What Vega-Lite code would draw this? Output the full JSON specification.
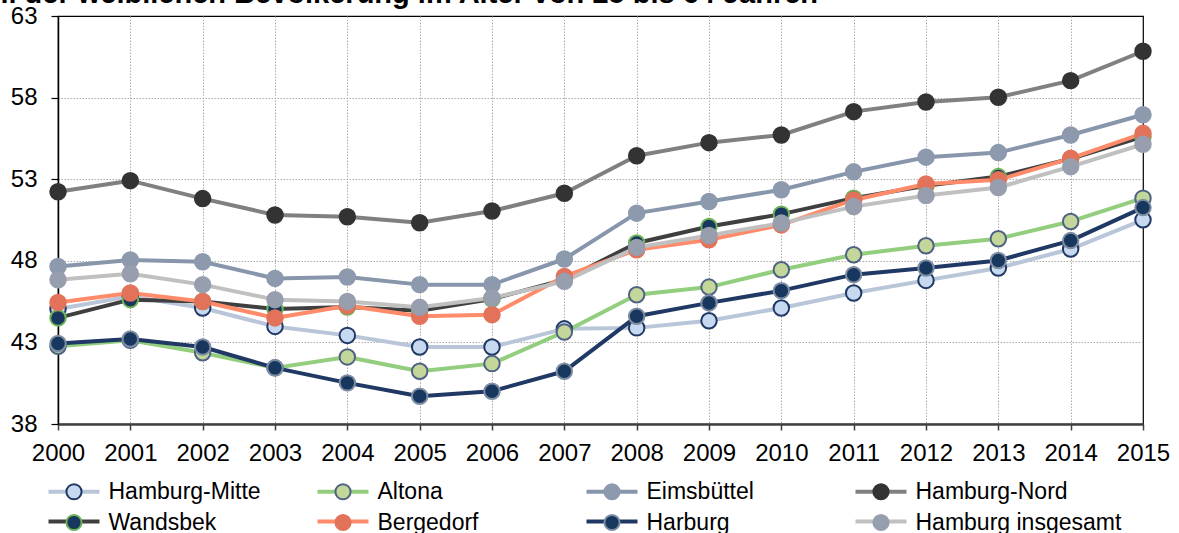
{
  "$schema": "https://vega.github.io/schema/vega-lite/v6.json",
  "width": 1085,
  "height": 408,
  "autosize": {"type": "none"},
  "padding": {"left": 58, "top": 16, "right": 36, "bottom": 109},
  "background": "white",
  "title": {
    "text": "Anteil der weiblichen Bevölkerung im Alter von 25 bis 64 Jahren",
    "anchor": "start",
    "frame": "group",
    "font": "Liberation Sans",
    "fontSize": 29,
    "fontWeight": "bold",
    "color": "black",
    "baseline": "alphabetic",
    "dx": -122,
    "dy": 28,
    "offset": 0
  },
  "config": {
    "view": {"stroke": "black", "strokeWidth": 1.2},
    "font": "Liberation Sans"
  },
  "datasets": {
    "rows": [
      {"name": "Hamburg-Mitte", "year": 2000, "value": 45.05}, {"name": "Hamburg-Mitte", "year": 2001, "value": 45.82}, {"name": "Hamburg-Mitte", "year": 2002, "value": 45.11}, {"name": "Hamburg-Mitte", "year": 2003, "value": 43.98}, {"name": "Hamburg-Mitte", "year": 2004, "value": 43.43}, {"name": "Hamburg-Mitte", "year": 2005, "value": 42.72}, {"name": "Hamburg-Mitte", "year": 2006, "value": 42.72}, {"name": "Hamburg-Mitte", "year": 2007, "value": 43.83}, {"name": "Hamburg-Mitte", "year": 2008, "value": 43.89}, {"name": "Hamburg-Mitte", "year": 2009, "value": 44.33}, {"name": "Hamburg-Mitte", "year": 2010, "value": 45.11}, {"name": "Hamburg-Mitte", "year": 2011, "value": 46.03}, {"name": "Hamburg-Mitte", "year": 2012, "value": 46.80}, {"name": "Hamburg-Mitte", "year": 2013, "value": 47.56}, {"name": "Hamburg-Mitte", "year": 2014, "value": 48.72}, {"name": "Hamburg-Mitte", "year": 2015, "value": 50.51},
      {"name": "Altona", "year": 2000, "value": 42.76}, {"name": "Altona", "year": 2001, "value": 43.13}, {"name": "Altona", "year": 2002, "value": 42.36}, {"name": "Altona", "year": 2003, "value": 41.44}, {"name": "Altona", "year": 2004, "value": 42.11}, {"name": "Altona", "year": 2005, "value": 41.23}, {"name": "Altona", "year": 2006, "value": 41.70}, {"name": "Altona", "year": 2007, "value": 43.64}, {"name": "Altona", "year": 2008, "value": 45.92}, {"name": "Altona", "year": 2009, "value": 46.39}, {"name": "Altona", "year": 2010, "value": 47.45}, {"name": "Altona", "year": 2011, "value": 48.37}, {"name": "Altona", "year": 2012, "value": 48.92}, {"name": "Altona", "year": 2013, "value": 49.35}, {"name": "Altona", "year": 2014, "value": 50.41}, {"name": "Altona", "year": 2015, "value": 51.84},
      {"name": "Eimsbüttel", "year": 2000, "value": 47.65}, {"name": "Eimsbüttel", "year": 2001, "value": 48.05}, {"name": "Eimsbüttel", "year": 2002, "value": 47.94}, {"name": "Eimsbüttel", "year": 2003, "value": 46.92}, {"name": "Eimsbüttel", "year": 2004, "value": 47.01}, {"name": "Eimsbüttel", "year": 2005, "value": 46.54}, {"name": "Eimsbüttel", "year": 2006, "value": 46.54}, {"name": "Eimsbüttel", "year": 2007, "value": 48.11}, {"name": "Eimsbüttel", "year": 2008, "value": 50.92}, {"name": "Eimsbüttel", "year": 2009, "value": 51.63}, {"name": "Eimsbüttel", "year": 2010, "value": 52.35}, {"name": "Eimsbüttel", "year": 2011, "value": 53.45}, {"name": "Eimsbüttel", "year": 2012, "value": 54.35}, {"name": "Eimsbüttel", "year": 2013, "value": 54.63}, {"name": "Eimsbüttel", "year": 2014, "value": 55.71}, {"name": "Eimsbüttel", "year": 2015, "value": 56.95},
      {"name": "Hamburg-Nord", "year": 2000, "value": 52.23}, {"name": "Hamburg-Nord", "year": 2001, "value": 52.91}, {"name": "Hamburg-Nord", "year": 2002, "value": 51.81}, {"name": "Hamburg-Nord", "year": 2003, "value": 50.81}, {"name": "Hamburg-Nord", "year": 2004, "value": 50.70}, {"name": "Hamburg-Nord", "year": 2005, "value": 50.33}, {"name": "Hamburg-Nord", "year": 2006, "value": 51.05}, {"name": "Hamburg-Nord", "year": 2007, "value": 52.14}, {"name": "Hamburg-Nord", "year": 2008, "value": 54.44}, {"name": "Hamburg-Nord", "year": 2009, "value": 55.24}, {"name": "Hamburg-Nord", "year": 2010, "value": 55.71}, {"name": "Hamburg-Nord", "year": 2011, "value": 57.14}, {"name": "Hamburg-Nord", "year": 2012, "value": 57.73}, {"name": "Hamburg-Nord", "year": 2013, "value": 58.02}, {"name": "Hamburg-Nord", "year": 2014, "value": 59.04}, {"name": "Hamburg-Nord", "year": 2015, "value": 60.84},
      {"name": "Wandsbek", "year": 2000, "value": 44.50}, {"name": "Wandsbek", "year": 2001, "value": 45.62}, {"name": "Wandsbek", "year": 2002, "value": 45.50}, {"name": "Wandsbek", "year": 2003, "value": 45.05}, {"name": "Wandsbek", "year": 2004, "value": 45.17}, {"name": "Wandsbek", "year": 2005, "value": 44.94}, {"name": "Wandsbek", "year": 2006, "value": 45.66}, {"name": "Wandsbek", "year": 2007, "value": 46.84}, {"name": "Wandsbek", "year": 2008, "value": 49.09}, {"name": "Wandsbek", "year": 2009, "value": 50.10}, {"name": "Wandsbek", "year": 2010, "value": 50.86}, {"name": "Wandsbek", "year": 2011, "value": 51.84}, {"name": "Wandsbek", "year": 2012, "value": 52.60}, {"name": "Wandsbek", "year": 2013, "value": 53.16}, {"name": "Wandsbek", "year": 2014, "value": 54.25}, {"name": "Wandsbek", "year": 2015, "value": 55.61},
      {"name": "Bergedorf", "year": 2000, "value": 45.45}, {"name": "Bergedorf", "year": 2001, "value": 46.03}, {"name": "Bergedorf", "year": 2002, "value": 45.51}, {"name": "Bergedorf", "year": 2003, "value": 44.50}, {"name": "Bergedorf", "year": 2004, "value": 45.25}, {"name": "Bergedorf", "year": 2005, "value": 44.60}, {"name": "Bergedorf", "year": 2006, "value": 44.70}, {"name": "Bergedorf", "year": 2007, "value": 47.04}, {"name": "Bergedorf", "year": 2008, "value": 48.68}, {"name": "Bergedorf", "year": 2009, "value": 49.29}, {"name": "Bergedorf", "year": 2010, "value": 50.20}, {"name": "Bergedorf", "year": 2011, "value": 51.73}, {"name": "Bergedorf", "year": 2012, "value": 52.71}, {"name": "Bergedorf", "year": 2013, "value": 52.96}, {"name": "Bergedorf", "year": 2014, "value": 54.28}, {"name": "Bergedorf", "year": 2015, "value": 55.81},
      {"name": "Harburg", "year": 2000, "value": 42.93}, {"name": "Harburg", "year": 2001, "value": 43.21}, {"name": "Harburg", "year": 2002, "value": 42.72}, {"name": "Harburg", "year": 2003, "value": 41.44}, {"name": "Harburg", "year": 2004, "value": 40.52}, {"name": "Harburg", "year": 2005, "value": 39.70}, {"name": "Harburg", "year": 2006, "value": 40.01}, {"name": "Harburg", "year": 2007, "value": 41.23}, {"name": "Harburg", "year": 2008, "value": 44.60}, {"name": "Harburg", "year": 2009, "value": 45.42}, {"name": "Harburg", "year": 2010, "value": 46.17}, {"name": "Harburg", "year": 2011, "value": 47.15}, {"name": "Harburg", "year": 2012, "value": 47.56}, {"name": "Harburg", "year": 2013, "value": 48.02}, {"name": "Harburg", "year": 2014, "value": 49.24}, {"name": "Harburg", "year": 2015, "value": 51.26},
      {"name": "Hamburg insgesamt", "year": 2000, "value": 46.84}, {"name": "Hamburg insgesamt", "year": 2001, "value": 47.21}, {"name": "Hamburg insgesamt", "year": 2002, "value": 46.54}, {"name": "Hamburg insgesamt", "year": 2003, "value": 45.62}, {"name": "Hamburg insgesamt", "year": 2004, "value": 45.51}, {"name": "Hamburg insgesamt", "year": 2005, "value": 45.15}, {"name": "Hamburg insgesamt", "year": 2006, "value": 45.72}, {"name": "Hamburg insgesamt", "year": 2007, "value": 46.74}, {"name": "Hamburg insgesamt", "year": 2008, "value": 48.82}, {"name": "Hamburg insgesamt", "year": 2009, "value": 49.55}, {"name": "Hamburg insgesamt", "year": 2010, "value": 50.31}, {"name": "Hamburg insgesamt", "year": 2011, "value": 51.32}, {"name": "Hamburg insgesamt", "year": 2012, "value": 52.00}, {"name": "Hamburg insgesamt", "year": 2013, "value": 52.49}, {"name": "Hamburg insgesamt", "year": 2014, "value": 53.77}, {"name": "Hamburg insgesamt", "year": 2015, "value": 55.14}
    ]
  },
  "data": {"name": "rows"},
  "encoding": {
    "x": {
      "field": "year",
      "type": "quantitative",
      "scale": {"domain": [2000, 2015], "nice": false, "zero": false},
      "axis": {
        "title": null,
        "values": [2000, 2001, 2002, 2003, 2004, 2005, 2006, 2007, 2008, 2009, 2010, 2011, 2012, 2013, 2014, 2015],
        "format": "d",
        "labelFont": "Liberation Sans",
        "labelFontSize": 24,
        "labelColor": "black",
        "labelPadding": 11,
        "labelFlush": false,
        "labelOverlap": false,
        "domainColor": "#404040",
        "domainWidth": 2.5,
        "tickColor": "#404040",
        "tickWidth": 1.5,
        "tickSize": 6,
        "grid": true,
        "gridColor": "#ADADAD",
        "gridDash": [1.5, 1.5],
        "gridWidth": 1,
        "gridOpacity": {"condition": {"test": "datum.value === 2015 || datum.value === 2000", "value": 0}, "value": 1}
      }
    },
    "y": {
      "field": "value",
      "type": "quantitative",
      "scale": {"domain": [38, 63], "nice": false, "zero": false},
      "axis": {
        "title": null,
        "values": [38, 43, 48, 53, 58, 63],
        "labelFont": "Liberation Sans",
        "labelFontSize": 24,
        "labelColor": "black",
        "labelPadding": 14,
        "labelFlush": false,
        "labelOverlap": false,
        "domainColor": "black",
        "domainWidth": 1.5,
        "tickColor": "black",
        "tickWidth": 1.2,
        "tickSize": 7,
        "grid": true,
        "gridColor": "#ADADAD",
        "gridDash": [1.5, 1.5],
        "gridWidth": 1,
        "gridOpacity": {"condition": {"test": "datum.value === 63 || datum.value === 38", "value": 0}, "value": 1}
      }
    }
  },
  "layer": [
    {
      "mark": {"type": "line", "strokeWidth": 4, "strokeJoin": "round"},
      "encoding": {
        "color": {
          "field": "name",
          "type": "nominal",
          "scale": {
            "domain": ["Hamburg-Mitte", "Altona", "Eimsbüttel", "Hamburg-Nord", "Wandsbek", "Bergedorf", "Harburg", "Hamburg insgesamt"],
            "range": ["#B9C5D8", "#92CE7E", "#8896AB", "#808080", "#3F3F3F", "#FF8B6A", "#1F3864", "#C0C0C0"]
          },
          "legend": {
            "title": null,
            "orient": "none",
            "legendX": -12.5,
            "legendY": 464,
            "direction": "horizontal",
            "columns": 4,
            "gridAlign": "all",
            "columnPadding": -20,
            "rowPadding": 6,
            "padding": 0,
            "symbolType": "M-3,0H3",
            "symbolSize": 289,
            "symbolStrokeWidth": 4,
            "symbolOffset": 17,
            "labelOffset": 23,
            "labelFont": "Liberation Sans",
            "labelFontSize": 23,
            "labelColor": "black",
            "labelOpacity": 0,
            "labelLimit": 400
          }
        }
      }
    },
    {
      "mark": {"type": "point", "shape": "circle", "filled": true, "size": 240, "strokeWidth": 2, "opacity": 1},
      "encoding": {
        "fill": {
          "field": "name",
          "type": "nominal",
          "scale": {
            "domain": ["Hamburg-Mitte", "Altona", "Eimsbüttel", "Hamburg-Nord", "Wandsbek", "Bergedorf", "Harburg", "Hamburg insgesamt", "-"],
            "range": ["#C6D9F1", "#C4D79B", "#8D9AAE", "#333333", "#17375E", "#E2735A", "#17375E", "#979EAE", "#ffffff"]
          },
          "legend": {
            "title": null,
            "values": ["Hamburg-Mitte", "Altona", "Eimsbüttel", "Hamburg-Nord", "Wandsbek", "Bergedorf", "Harburg", "Hamburg insgesamt"],
            "orient": "none",
            "legendX": -12.5,
            "legendY": 464,
            "direction": "horizontal",
            "columns": 4,
            "gridAlign": "all",
            "columnPadding": -20,
            "rowPadding": 6,
            "padding": 0,
            "symbolType": "M-3.12,0M3.12,0M0.892,0A0.892,0.892,0,1,1,-0.892,0A0.892,0.892,0,1,1,0.892,0Z",
            "symbolSize": 289,
            "symbolStrokeWidth": 2,
            "symbolOpacity": 1,
            "symbolOffset": 17,
            "labelOffset": 23,
            "labelFont": "Liberation Sans",
            "labelFontSize": 23,
            "labelColor": "black",
            "labelLimit": 400,
            "encode": {"symbols": {"update": {"stroke": {"scale": "stroke", "field": "value"}}}}
          }
        },
        "stroke": {
          "field": "name",
          "type": "nominal",
          "scale": {
            "domain": ["Hamburg-Mitte", "Altona", "Eimsbüttel", "Hamburg-Nord", "Wandsbek", "Bergedorf", "Harburg", "Hamburg insgesamt", "-"],
            "range": ["#1F3864", "#4F6283", "#8D9AAE", "#333333", "#6DB257", "#E2735A", "#7F8DA3", "#979EAE", "#ffffff"]
          },
          "legend": null
        }
      }
    }
  ]
}
